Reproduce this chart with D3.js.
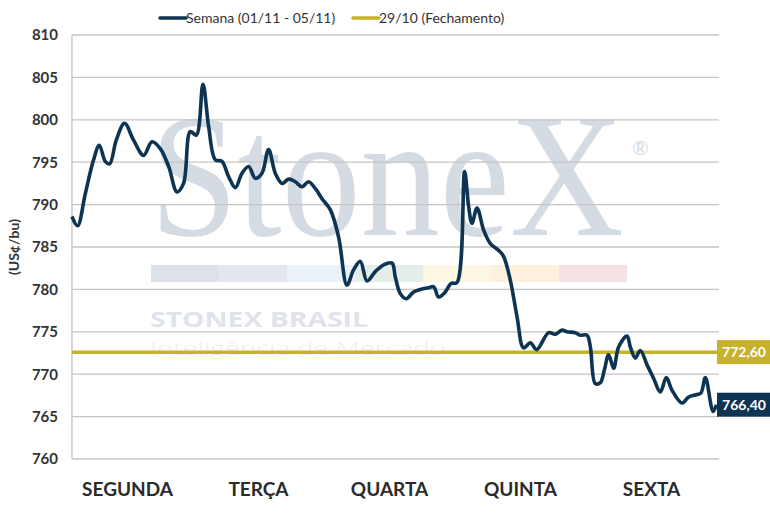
<!DOCTYPE html>
<html>
<head>
<meta charset="utf-8">
<script src="https://cdn.jsdelivr.net/npm/d3@7"></script>
<style>
  body { margin: 0; background: #fff; }
  svg { font-family: Lato, "Open Sans", sans-serif; }
</style>
</head>
<body>
<svg id="chart" width="770" height="513"></svg>
<script>
// dias da semana (eixo x)
var dias = ["SEGUNDA", "TERÇA", "QUARTA", "QUINTA", "SEXTA"];

// posição no tempo (em dias desde a abertura de segunda) e preço
var tempo = [0.000, 0.043, 0.103, 0.167, 0.211, 0.257, 0.291, 0.342, 0.406, 0.476,
    0.553, 0.618, 0.682, 0.747, 0.811, 0.862, 0.914, 0.961, 1.012, 1.056,
    1.107, 1.159, 1.210, 1.262, 1.314, 1.365, 1.417, 1.468, 1.519, 1.571,
    1.623, 1.674, 1.726, 1.777, 1.828, 1.880, 1.932, 1.996, 2.060, 2.125,
    2.176, 2.228, 2.280, 2.344, 2.408, 2.473, 2.498, 2.537, 2.583, 2.640,
    2.692, 2.756, 2.795, 2.833, 2.885, 2.929, 2.975, 3.034, 3.065, 3.091,
    3.130, 3.181, 3.233, 3.297, 3.335, 3.387, 3.439, 3.490, 3.542, 3.591,
    3.683, 3.735, 3.787, 3.825, 3.889, 3.928, 3.980, 4.006, 4.044, 4.083,
    4.114, 4.147, 4.186, 4.224, 4.289, 4.315, 4.353, 4.392, 4.444, 4.495,
    4.546, 4.593, 4.637, 4.714, 4.765, 4.830, 4.861, 4.895, 4.954, 4.980];

var semana = [788.6, 787.5, 791.3, 795.3, 797.0, 795.1, 794.8, 797.6, 799.6, 797.6,
    795.8, 797.4, 796.6, 794.5, 791.5, 792.5, 798.6, 798.2, 804.2, 799.2,
    795.3, 795.1, 793.3, 792.0, 793.7, 794.5, 793.1, 793.7, 796.5, 793.7,
    792.5, 793.0, 792.7, 792.1, 792.7, 791.9, 790.7, 789.4, 786.2, 780.5,
    782.3, 783.3, 781.0, 782.1, 782.9, 783.1, 781.5, 779.5, 778.9, 779.7,
    780.0, 780.2, 780.3, 779.1, 779.7, 780.7, 780.8, 793.9, 789.8, 787.8,
    789.6, 787.0, 785.4, 784.6, 783.9, 781.1, 776.8, 773.1, 773.7, 772.9,
    774.9, 774.7, 775.2, 775.0, 774.9, 774.6, 774.6, 773.2, 768.9, 769.0,
    770.5, 772.3, 770.7, 773.2, 774.5, 773.2, 771.9, 772.8, 771.1, 769.5,
    767.9, 769.6, 768.1, 766.6, 767.3, 767.6, 767.8, 769.6, 765.6, 766.4];

var fechamento = 772.6;
var yTicks = [760, 765, 770, 775, 780, 785, 790, 795, 800, 805, 810];
var legenda = ["Semana (01/11 - 05/11)", "29/10 (Fechamento)"];

var corSemana = "#0e3453";
var corFech = "#c6b22c";

var svg = d3.select("#chart");
var margin = {top: 35, right: 51, bottom: 54, left: 72};
var width = 770 - margin.left - margin.right;
var height = 513 - margin.top - margin.bottom;

var g = svg.append("g").attr("transform", "translate(" + margin.left + "," + margin.top + ")");

var xScale = d3.scaleLinear().domain([0, 5]).range([0, width]);
// rótulos de categoria um pouco deslocados à esquerda, como no original
var xBand = d3.scaleBand().domain(dias).range([-10, width - 2]);
var yScale = d3.scaleLinear().domain([760, 810]).range([height, 0]);

// marca d'água
var wm = g.append("g").attr("class", "watermark");
wm.append("text")
    .attr("transform", "translate(78,200) scale(1,1.12)")
    .style("font-family", "'Liberation Serif', serif")
    .style("font-size", "158px")
    .style("fill", "#d5dbe3")
    .text("StoneX");
wm.append("text")
    .attr("x", 560).attr("y", 120)
    .style("font-family", "Lato, sans-serif")
    .style("font-size", "20px")
    .style("fill", "#d5dbe3")
    .text("®");
var faixas = ["#dde2e9", "#e3e8ef", "#ebf1f8", "#e4eee8", "#fbf7e3", "#fdf1dd", "#f5e2e2"];
wm.selectAll("rect.faixa").data(faixas).enter().append("rect")
    .attr("class", "faixa")
    .attr("x", (d, i) => 79 + i * 68)
    .attr("y", 230)
    .attr("width", 68)
    .attr("height", 17)
    .style("fill", d => d);
wm.append("text")
    .attr("x", 78).attr("y", 292)
    .attr("textLength", 218)
    .attr("lengthAdjust", "spacingAndGlyphs")
    .style("font-family", "'Open Sans', sans-serif")
    .style("font-weight", 700)
    .style("font-size", "21px")
    .style("fill", "#e0e4ea")
    .text("STONEX BRASIL");
wm.append("text")
    .attr("x", 78).attr("y", 320)
    .attr("textLength", 296)
    .attr("lengthAdjust", "spacingAndGlyphs")
    .style("font-family", "'Open Sans', sans-serif")
    .style("font-weight", 300)
    .style("font-size", "19px")
    .style("fill", "#eceef2")
    .text("Inteligência de Mercado");

// grade horizontal
g.selectAll("line.grid").data(yTicks).enter().append("line")
    .attr("class", "grid")
    .attr("x1", 0).attr("x2", width)
    .attr("y1", d => yScale(d)).attr("y2", d => yScale(d))
    .style("stroke", "#c4c4c4")
    .style("stroke-width", 1.3);

g.append("line")
    .attr("x1", 0).attr("x2", 0)
    .attr("y1", 0).attr("y2", height)
    .style("stroke", "#c4c4c4")
    .style("stroke-width", 1.3);

// eixo y
var yAxis = g.append("g")
    .call(d3.axisLeft(yScale).tickValues(yTicks).tickSize(0).tickPadding(14));
yAxis.select(".domain").remove();
yAxis.selectAll("text")
    .style("font-family", "Lato, sans-serif")
    .style("font-size", "15px")
    .style("font-weight", 700)
    .style("fill", "#333");

// eixo x
var xAxis = g.append("g")
    .attr("transform", "translate(0," + height + ")")
    .call(d3.axisBottom(xBand).tickSize(0).tickPadding(24));
xAxis.select(".domain").remove();
xAxis.selectAll("text")
    .style("font-family", "Lato, sans-serif")
    .style("font-size", "19px")
    .style("font-weight", 700)
    .style("fill", "#2b2b2b");

svg.append("text")
    .attr("transform", "translate(19," + (margin.top + yScale(785)) + ") rotate(-90)")
    .attr("text-anchor", "middle")
    .style("font-size", "14px")
    .style("font-weight", 700)
    .style("fill", "#333")
    .text("(US¢/bu)");

// linha de fechamento
g.append("line")
    .attr("x1", 0).attr("x2", width)
    .attr("y1", yScale(fechamento)).attr("y2", yScale(fechamento))
    .style("stroke", corFech)
    .style("stroke-width", 3.5);

// série da semana
var pontos = tempo.map((t, i) => ({t: t, v: semana[i]}));
var line = d3.line()
    .x(d => xScale(d.t))
    .y(d => yScale(d.v))
    .curve(d3.curveCatmullRom.alpha(0.5));

g.append("path")
    .datum(pontos)
    .attr("d", line)
    .style("fill", "none")
    .style("stroke", corSemana)
    .style("stroke-width", 3.6)
    .style("stroke-linejoin", "round");

// rótulos de valor à direita
var fmt = v => d3.format(".2f")(v).replace(".", ",");
var rotulos = [
    {v: fechamento, cor: corFech},
    {v: semana[semana.length - 1], cor: corSemana}
];
var rg = svg.selectAll("g.rotulo").data(rotulos).enter().append("g")
    .attr("class", "rotulo")
    .attr("transform", d => "translate(" + (margin.left + width - 2) + "," + (margin.top + yScale(d.v)) + ")");
rg.append("rect")
    .attr("x", 0).attr("y", -12)
    .attr("width", 54).attr("height", 24)
    .style("fill", d => d.cor);
rg.append("text")
    .attr("x", 27).attr("y", 5)
    .attr("text-anchor", "middle")
    .style("font-size", "14px")
    .style("font-weight", 700)
    .style("fill", "#fff")
    .text(d => fmt(d.v));

// legenda
var cores = [corSemana, corFech];
var lx = [160, 353];
var lg = svg.selectAll("g.legenda").data(legenda).enter().append("g")
    .attr("class", "legenda")
    .attr("transform", (d, i) => "translate(" + lx[i] + ",18)");
lg.append("line")
    .attr("x1", 0).attr("x2", 26)
    .style("stroke", (d, i) => cores[i])
    .style("stroke-width", 3.5)
    .style("stroke-linecap", "round");
lg.append("text")
    .attr("x", 26).attr("y", 5)
    .style("font-size", "14px")
    .style("fill", "#333")
    .text(d => d);
</script>
</body>
</html>
